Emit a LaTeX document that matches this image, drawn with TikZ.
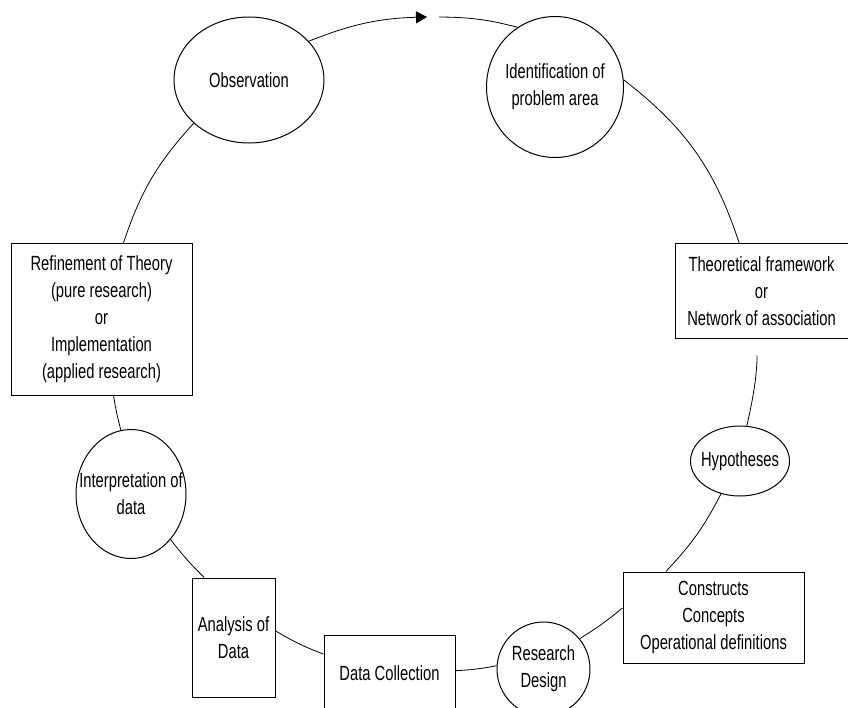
\documentclass[tikz,border=0pt]{standalone}
\usepackage{fontspec}
\setmainfont{Liberation Sans}[FakeStretch=0.72]
\usetikzlibrary{shapes.geometric,arrows.meta}

\begin{document}
\begin{tikzpicture}[x=1pt,y=1pt,
  every node/.style={font=\fontsize{20.5}{27}\selectfont},
  stagebox/.style={draw,line width=1pt,align=center,inner sep=0pt},
  stageoval/.style={draw,ellipse,line width=1pt,inner sep=0pt},
  every label/.style={align=center},
  link/.style={line width=0.8pt}]
\useasboundingbox (0,-708) rectangle (848,0);

% Stages drawn as ovals
\node[stageoval,minimum width=150pt,minimum height=126pt,label={center:Observation}] (obs) at (249,-80) {};
\node[stageoval,minimum width=137pt,minimum height=141pt,label={center:Identification of\\problem area}] (ident) at (555,-87) {};
\node[stageoval,minimum width=99pt,minimum height=70pt,label={center:Hypotheses}] (hyp) at (740,-461) {};
\node[stageoval,minimum width=93pt,minimum height=94pt,label={center:Research\\Design}] (design) at (543.5,-669) {};
\node[stageoval,minimum width=110pt,minimum height=129pt,label={center:Interpretation of\\data}] (interp) at (131,-494) {};

% Stages drawn as boxes
\node[stagebox,minimum width=173pt,minimum height=94pt] (theory) at (761.5,-291) {Theoretical framework\\or\\Network of association};
\node[stagebox,minimum width=181pt,minimum height=91pt] (constr) at (713.5,-617.5) {Constructs\\Concepts\\Operational definitions};
\node[stagebox,minimum width=131pt,minimum height=76pt] (collect) at (389.5,-673) {Data Collection};
\node[stagebox,minimum width=83pt,minimum height=119pt] (analysis) at (233.5,-637.5) {Analysis of\\Data};
\node[stagebox,minimum width=181pt,minimum height=151pt] (refine) at (101.5,-319.5) {Refinement of Theory\\(pure research)\\or\\Implementation\\(applied research)};

% Open ends of the cycle at the top
\coordinate (tip) at (427,-17);
\coordinate (gap) at (439,-17);

% Cycle links
\draw[link,-{Triangle[length=11pt,width=12pt]}] (obs.33) to[bend left=10] (tip);
\draw[link] (gap) to[bend left=7] (ident.122);
\draw[link] (ident.6) to[bend left=17] (theory.115);
\draw[link,shorten <=17pt] (theory.265) to[bend left=6] (hyp.79);
\draw[link] (hyp.240) to[bend left=8] (constr.136);
\draw[link] (constr.174) to[bend left=4] (design.40);
\draw[link] (design.176) to[bend left=4] (collect.2);
\draw[link] (collect.164) to[bend left=5] (analysis.9);
\draw[link] (analysis.116) to[bend left=4] (interp.311);
\draw[link] (interp.99) to[bend left=3] (refine.279);
\draw[link] (refine.74) to[bend left=12] (obs.218);
\end{tikzpicture}
\end{document}
